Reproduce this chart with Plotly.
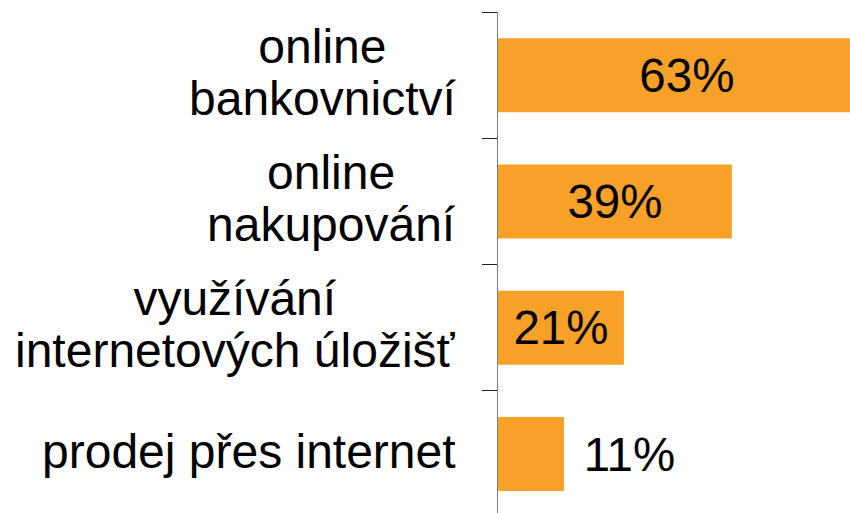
import plotly.graph_objects as go

categories = ["online bankovnictví", "online nakupování",
              "využívání internetových úložišť", "prodej přes internet"]
label_lines = [["online", "bankovnictví"], ["online", "nakupování"],
               ["využívání", "internetových úložišť"], ["prodej přes internet"]]
values = [63, 39, 21, 11]
text_positions = ["inside", "inside", "inside", "outside"]

BAR_COLOR = "#F7A128"
FONT = "Arial, Liberation Sans, sans-serif"

texts = []
for v, p in zip(values, text_positions):
    if p == "outside":
        texts.append('<span style="font-size:30px">\u00a0\u00a0</span>' + f"{v}%")
    else:
        texts.append(f"{v}%")

fig = go.Figure(go.Bar(
    x=values, y=categories, orientation="h",
    marker=dict(color=BAR_COLOR, line=dict(width=0)),
    width=0.586,
    text=texts, textposition=text_positions,
    insidetextanchor="middle", constraintext="none",
    textfont=dict(family=FONT, size=47.5, color="black"),
    cliponaxis=True, hoverinfo="skip",
))

annotations = []
for cat, lines in zip(categories, label_lines):
    txt = "<br>".join(f'<span style="font-size:48px">{l}</span>' for l in lines)
    annotations.append(dict(
        x=0, xref="paper", xanchor="right", xshift=-40,
        y=cat, yref="y", yanchor="middle", yshift=3,
        text=txt, align="center", showarrow=False,
        font=dict(family=FONT, size=40, color="black"),
    ))

fig.update_layout(
    width=850, height=513,
    margin=dict(l=498, r=0, t=12, b=0, pad=0),
    paper_bgcolor="white", plot_bgcolor="white",
    showlegend=False,
    annotations=annotations,
    xaxis=dict(range=[0, 58.7], visible=False, showgrid=False, zeroline=False),
    yaxis=dict(
        type="category", categoryorder="array", categoryarray=categories,
        range=[3.467, -0.5], showticklabels=False,
        showline=True, linecolor="#7f7f7f", linewidth=1.3,
        ticks="outside", tickson="boundaries", ticklen=15,
        tickcolor="#222222", tickwidth=1.3,
        showgrid=False, zeroline=False,
    ),
)

fig.write_html(
    "out.html",
    config={"displayModeBar": False},
    post_script="document.body.style.margin='0';document.body.style.overflow='hidden';",
)
